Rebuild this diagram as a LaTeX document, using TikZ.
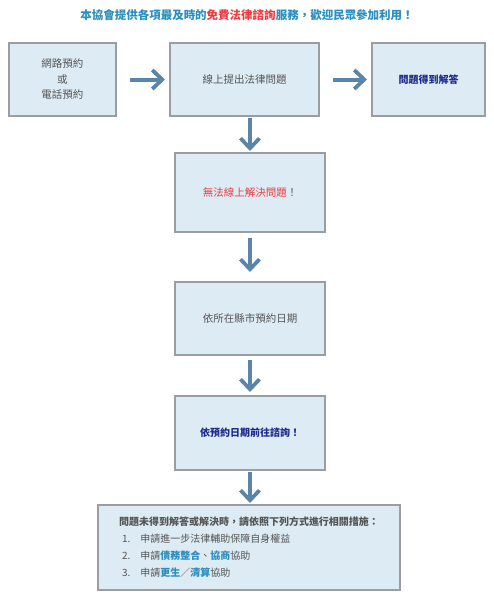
\documentclass[tikz,border=0pt]{standalone}
\usepackage{fontspec}
\setmainfont{Noto Sans CJK TC}
\usetikzlibrary{positioning, arrows.meta}
\definecolor{boxfill}{HTML}{DCEBF4}
\definecolor{boxline}{HTML}{9A9EA2}
\definecolor{flow}{HTML}{5A84A8}
\definecolor{teal}{HTML}{2A8EBE}
\definecolor{hot}{HTML}{EE3A40}
\definecolor{navy}{HTML}{1C2A8E}
\definecolor{txt}{HTML}{555555}

\begin{document}
\begin{tikzpicture}[x=1pt, y=-1pt,
		stepbox/.style={draw=boxline, line width=1.6pt, fill=boxfill, text=txt,
			inner sep=0pt, outer sep=0pt, minimum width=150pt, minimum height=74pt, align=center,
			font=\fontsize{10.5}{15.5}\selectfont},
		flowarrow/.style={draw=flow, line width=4pt,
			-{Straight Barb[length=10pt, width=19pt, line width=3.8pt]}}]
		\useasboundingbox (0,0) rectangle (494,600);
		\node[text=teal, font=\fontsize{11.5}{14}\selectfont\bfseries] (title) at (247,15)
			{本協會提供各項最及時的\textcolor{hot}{免費法律諮詢}服務，歡迎民眾參加利用！};
		
		\node[stepbox, minimum width=149pt, minimum height=73pt] (online) at (244.5,79.5) {線上提出法律問題};
		\node[stepbox, minimum width=107pt, minimum height=73pt, left=54pt of online] (book) {網路預約\\或\\電話預約};
		\node[stepbox, minimum width=113pt, minimum height=73pt, right=53pt of online, text=navy, font=\fontsize{10}{15}\selectfont\bfseries] (answer) {問題得到解答};
		
		\node[stepbox, minimum height=79pt, below=37pt of online, xshift=5.5pt] (fail) {\textcolor{hot}{無法線上解決問題}！};
		\node[stepbox, minimum height=73pt, below=50pt of fail] (date) {依所在縣市預約日期};
		\node[stepbox, below=41pt of date, text=navy, font=\fontsize{10}{15}\selectfont\bfseries] (visit) {依預約日期前往諮詢！};
		\node[stepbox, minimum width=302pt, minimum height=85pt, below=35pt of visit, xshift=-1pt, align=left,
			font=\fontsize{10}{17}\selectfont] (help)
			{\textbf{問題未得到解答或解決時，請依照下列方式進行相關措施：}\\
			\hspace*{3pt}1.\hspace{10pt}申請進一步法律輔助保障自身權益\\
			\hspace*{3pt}2.\hspace{10pt}申請\textcolor{teal}{\textbf{債務整合}}、\textcolor{teal}{\textbf{協商}}協助\\
			\hspace*{3pt}3.\hspace{10pt}申請\textcolor{teal}{\textbf{更生}}／\textcolor{teal}{\textbf{清算}}協助};
		
		\draw[flowarrow, shorten <=14pt, shorten >=5pt] (book) -- (online);
		\draw[flowarrow, shorten <=14pt, shorten >=5pt] (online) -- (answer);
		\draw[flowarrow, shorten <=2pt, shorten >=2pt] (fail.north |- online.south) -- (fail.north);
		\draw[flowarrow, shorten <=6pt, shorten >=10pt] (fail) -- (date);
		\draw[flowarrow, shorten <=5pt, shorten >=4pt] (date) -- (visit);
		\draw[flowarrow, shorten <=2pt, shorten >=2pt] (visit.south) -- (visit.south |- help.north);
	\end{tikzpicture}
\end{document}
